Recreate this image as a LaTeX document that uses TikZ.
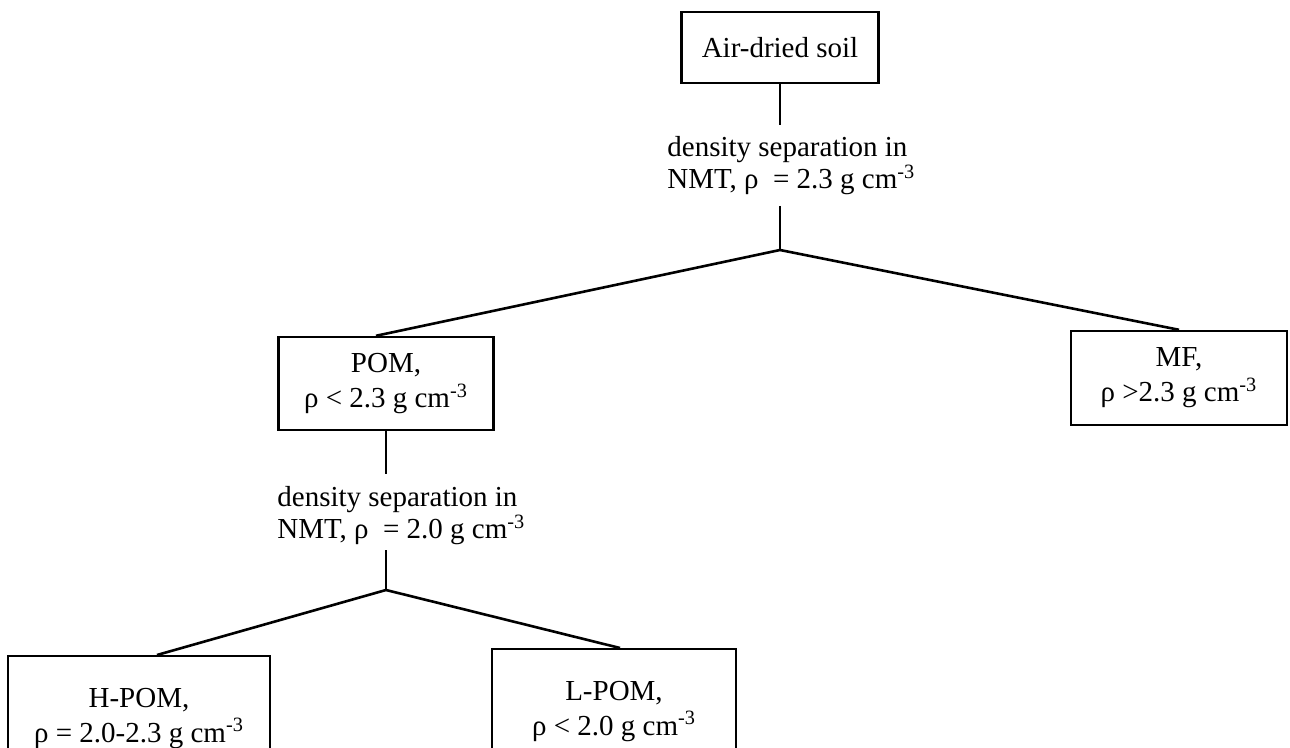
\documentclass[tikz,border=0pt]{standalone}
\usepackage{fontspec}
\setmainfont{Liberation Serif}
\usepackage{tikz}

\tikzset{
  fracbox/.style={draw, line width=1.2pt, align=center, inner sep=0pt,
    font=\fontsize{14.5}{17.5}\selectfont},
  seplabel/.style={align=left, inner sep=0pt, anchor=north west,
    font=\fontsize{14.5}{15}\selectfont},
  branch/.style={line width=1.3pt}
}

\begin{document}
\begin{tikzpicture}[x=0.5pt, y=-0.5pt]
            \useasboundingbox (0,0) rectangle (1290,748);

            \node[fracbox, minimum width=98.5pt, minimum height=35.5pt] (soil) at (780,47.5) {Air-dried soil};
            \node[seplabel] (sep1) at (667,136) {density separation in\\NMT, ρ\ \ = 2.3 g cm\textsuperscript{-3}};
            \node[fracbox, minimum width=107.5pt, minimum height=46.5pt] (pom) at (386,383.5) {POM,\\ρ < 2.3 g cm\textsuperscript{-3}};
            \node[fracbox, minimum width=108pt, minimum height=47pt] (mf) at (1179,378) {MF,\\ρ >2.3 g cm\textsuperscript{-3}};
            \node[seplabel] (sep2) at (277,486) {density separation in\\NMT, ρ\ \ = 2.0 g cm\textsuperscript{-3}};
            \node[fracbox, anchor=north, minimum width=131pt, minimum height=62pt] (hpom) at (139,655) {H-POM,\\ρ = 2.0-2.3 g cm\textsuperscript{-3}};
            \node[fracbox, anchor=north, minimum width=122pt, minimum height=62pt] (lpom) at (614,648) {L-POM,\\ρ < 2.0 g cm\textsuperscript{-3}};

            \coordinate (a1) at (780,125);
            \coordinate (b1) at (780,206);
            \coordinate (j1) at (780,250);
            \coordinate (a2) at (386,474);
            \coordinate (b2) at (386,550);
            \coordinate (j2) at (386,590);

            \draw[branch] (soil.south) -- (a1);
            \draw[branch] (b1) -- (j1);
            \draw[branch] (j1) -- ([xshift=-5pt]pom.north);
            \draw[branch] (j1) -- (mf.north);
            \draw[branch] (pom.south) -- (a2);
            \draw[branch] (b2) -- (j2);
            \draw[branch] (j2) -- ([xshift=9pt]hpom.north);
            \draw[branch] (j2) -- ([xshift=3pt]lpom.north);
        \end{tikzpicture}
\end{document}
